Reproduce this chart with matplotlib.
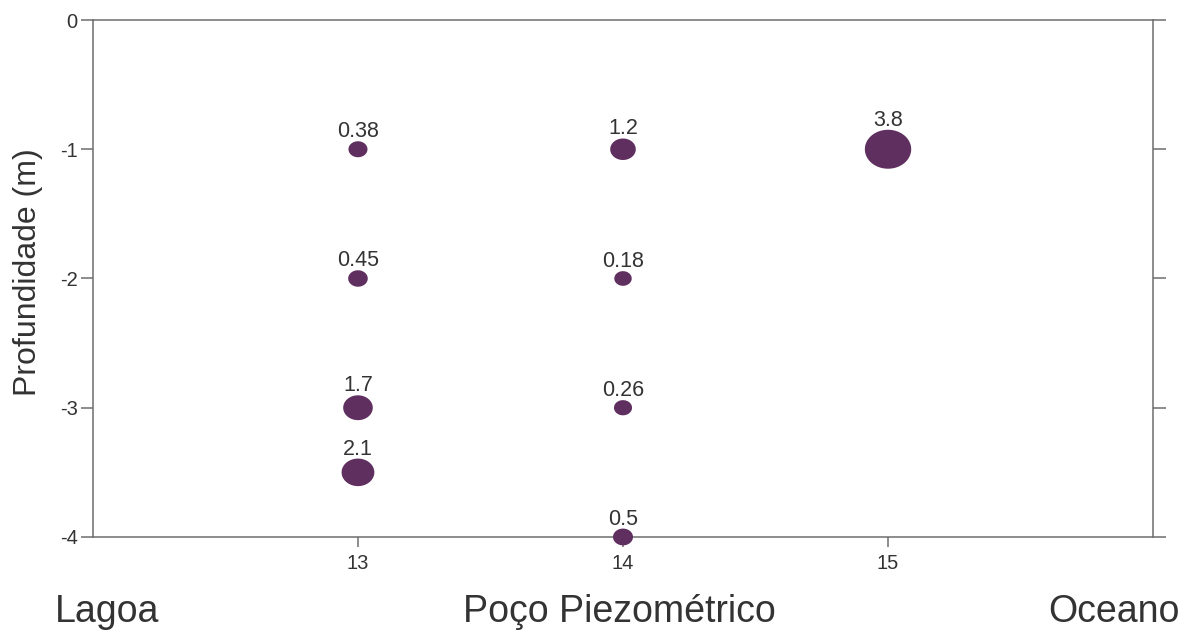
import numpy as np
import matplotlib
matplotlib.use("Agg")
import matplotlib.pyplot as plt
from matplotlib.path import Path

# ---------------------------------------
# Data
# ---------------------------------------
poco = [13, 13, 13, 13, 14, 14, 14, 14, 15]
profundidade = [-1, -2, -3, -3.5, -1, -2, -3, -4, -1]
valores = [0.38, 0.45, 1.7, 2.1, 1.2, 0.18, 0.26, 0.5, 3.8]
rotulos = ["0.38", "0.45", "1.7", "2.1", "1.2", "0.18", "0.26", "0.5", "3.8"]

x_ticks = [13, 14, 15]
y_ticks = [0, -1, -2, -3, -4]

plt.rcParams["font.family"] = ["Liberation Sans", "DejaVu Sans"]

cor = "#5f2f5f"
cinza = "#6e6e6e"
texto = "#333333"

# ellipse marker (slightly wider than tall)
t = np.linspace(0, 2 * np.pi, 60)
elipse = Path(np.column_stack([np.cos(t), 0.84 * np.sin(t)]), closed=True)

# marker width in pixels grows with the value
largura = [16 + 8 * v for v in valores]
tamanhos = [(d * 0.72) ** 2 for d in largura]

fig = plt.figure(figsize=(11.87, 6.33), dpi=100)
ax = fig.add_axes([0.0783, 0.1517, 0.8931, 0.8167])

ax.scatter(poco, profundidade, s=tamanhos, marker=elipse, color=cor,
           edgecolors="none", zorder=3, clip_on=False)

for xi, yi, d, lab in zip(poco, profundidade, largura, rotulos):
    ax.annotate(lab, (xi, yi), xytext=(0, d * 0.84 / 2 + 4),
                textcoords="offset pixels", ha="center", va="baseline",
                fontsize=15.5, color=texto)

ax.set_xlim(12, 16)
ax.set_ylim(-4, 0)
ax.set_xticks(x_ticks)
ax.set_yticks(y_ticks)
ax.set_xticklabels([str(v) for v in x_ticks])
ax.set_yticklabels([str(v) for v in y_ticks])

for s in ax.spines.values():
    s.set_color(cinza)
    s.set_linewidth(1.1)

ax.tick_params(axis="y", which="both", left=True, right=True, direction="out",
               length=9, width=1.1, color=cinza, labelsize=14.5,
               labelcolor=texto, pad=2)
ax.tick_params(axis="x", direction="out", length=7, width=1.1, color=cinza,
               labelsize=14.5, labelcolor=texto, pad=5)

fig.text(0.0236, 0.570, "Profundidade (m)", rotation=90, ha="center",
         va="center", fontsize=23, color=texto)

fig.text(0.046, 0.0174, "Lagoa", ha="left", va="baseline", fontsize=27,
         color=texto)
fig.text(0.522, 0.0174, "Poço Piezométrico", ha="center", va="baseline",
         fontsize=27, color=texto)
fig.text(0.994, 0.0174, "Oceano", ha="right", va="baseline", fontsize=27,
         color=texto)

fig.savefig("out.png", dpi=100)
plt.close()
